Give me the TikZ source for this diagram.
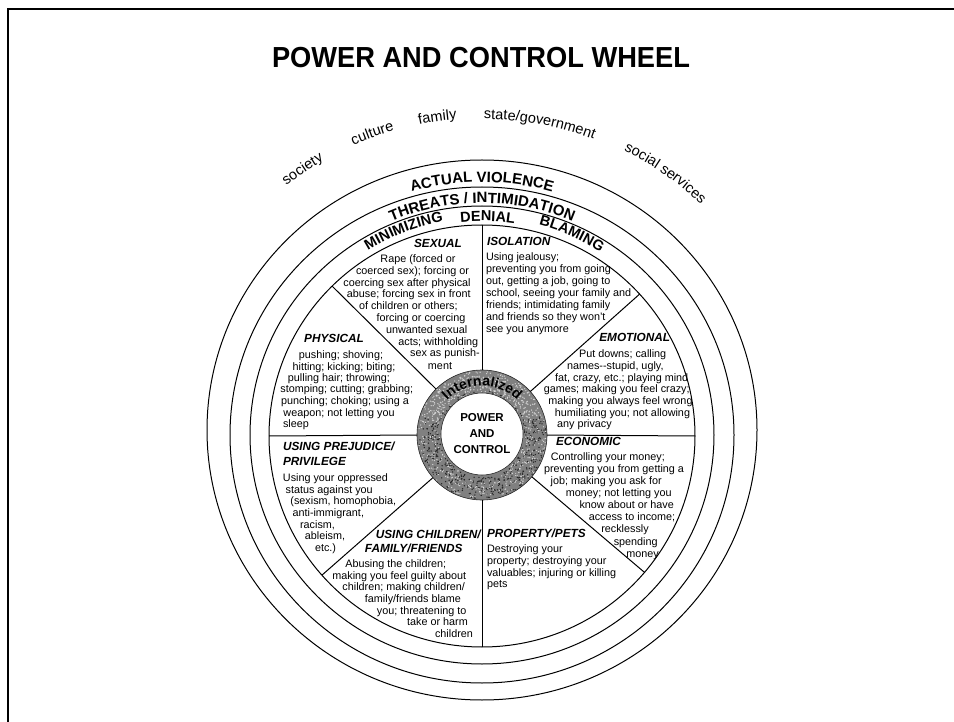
\documentclass[tikz,border=0pt]{standalone}
\usepackage{fontspec}
\setmainfont{Liberation Sans}
\newfontfamily\titlefont[FakeStretch=0.94]{Liberation Sans}
\usetikzlibrary{decorations.text,shapes.geometric}
\newcommand\rtBig{\fontsize{15}{15}\selectfont\bfseries}
\newcommand\rtMid{\fontsize{14.5}{15}\selectfont\bfseries}
\newcommand\rtOut{\fontsize{14.5}{15}\selectfont}
\newcommand\rtHub{\fontsize{14}{14}\selectfont\bfseries}
\begin{document}
\begin{tikzpicture}[x=1pt,y=-1pt,
  body/.style={font=\fontsize{10.8}{12}\selectfont, anchor=base, inner sep=0pt, outer sep=0pt, yshift=-3.6pt},
  bodyl/.style={body, anchor=base west},
  head/.style={font=\fontsize{11.8}{13}\selectfont\bfseries\itshape, anchor=base, inner sep=0pt, outer sep=0pt, yshift=-4.2pt},
  headl/.style={head, anchor=base west},
  ringline/.style={draw, line width=1pt, ellipse, inner sep=0pt, outer sep=0pt},
  spoke/.style={line width=1pt},
  curved/.style={decorate, decoration={text along path, text align=center, text={#1}}}
]
\useasboundingbox (0,0) rectangle (954,722);
\fill[white] (0,0) rectangle (954,722);
\draw[line width=2.5pt] (954,9) -- (8,9) -- (8,722);

\node[font=\titlefont\fontsize{29}{29}\selectfont\bfseries, inner sep=0pt] (title) at (481,58) {POWER AND CONTROL WHEEL};

% rings
\node[ringline, minimum width=550, minimum height=540] (r4) at (482,430) {};
\node[ringline, minimum width=504, minimum height=496] (r3) at (482,435) {};
\node[ringline, minimum width=464, minimum height=458] (r2) at (482,435) {};
\node[ringline, minimum width=426, minimum height=422] (rim) at (482,436) {};

% hub
\node[circle, draw=black!85, line width=0.6pt, fill=black!50, minimum size=130, inner sep=0pt, outer sep=0pt] (hub) at (482,435) {};

% spokes
\foreach \a in {90,42,0,320,270,221,180,135}
  \draw[spoke] (hub.\a) -- (rim.\a);

% curved texts and hub texture
\begin{scope}[y=1pt, shift={(482,-435)}]
  \pgfmathsetseed{11}
  \foreach \i in {1,...,700}{
    \pgfmathsetmacro\ang{360*rnd}
    \pgfmathsetmacro\rad{42.5+21.5*rnd}
    \pgfmathparse{and(and(\ang>18,\ang<162),\rad>45) ? 1 : 0}
    \ifdim\pgfmathresult pt>0.5pt
      \fill[white!80!black] (\ang:\rad) circle (0.75);
    \else
      \fill[black!85] (\ang:\rad) circle (0.75);
    \fi
  }
  \foreach \i in {1,...,500}{
    \pgfmathsetmacro\ang{360*rnd}
    \pgfmathsetmacro\rad{42.5+21.5*rnd}
    \fill[white!85!black] (\ang:\rad) circle (0.65);
  }
  \path[curved={|\rtHub|Internalized}] (165:49) arc[start angle=165, end angle=15, radius=49];

  \path[curved={|\rtBig|ACTUAL VIOLENCE}]
    (130:253) arc[start angle=130, end angle=50, radius=253];
  \path[curved={|\rtBig|THREATS / INTIMIDATION}]
    (135:232) arc[start angle=135, end angle=45, radius=232];
  \path[curved={|\rtMid|DENIAL}]
    (110:214) arc[start angle=110, end angle=67, radius=214];
  \path[curved={|\rtMid|MINIMIZING}]
    (136:217) arc[start angle=136, end angle=86, radius=217];
  \path[curved={|\rtMid|BLAMING}]
    (91:218) arc[start angle=91, end angle=41, radius=218];
  \path[curved={|\rtOut|society}]
    (149:317) arc[start angle=149, end angle=99, radius=317];
  \path[curved={|\rtOut|culture}]
    (135:317) arc[start angle=135, end angle=85, radius=317];
  \path[curved={|\rtOut|family}]
    (123:317) arc[start angle=123, end angle=73, radius=317];
  \path[curved={|\rtOut|state/government}]
    (109.5:316) arc[start angle=109.5, end angle=49.5, radius=316];
  \path[curved={|\rtOut|social services}]
    (85:318) arc[start angle=85, end angle=25, radius=318];
\end{scope}

\node[circle, draw=black!85, line width=0.6pt, fill=white, minimum size=82, inner sep=0pt, align=center,
  font=\fontsize{11.5}{16}\selectfont\bfseries] (core) at (482,434) {POWER\\AND\\CONTROL};

% SEXUAL
\node[head] (sxh) at (438,243) {SEXUAL};
\node[body] (sx1) at (418,259) {Rape (forced or};
\node[body] (sx2) at (412.5,271.2) {coerced sex); forcing or};
\node[body] (sx3) at (407,282.7) {coercing sex after physical};
\node[body] (sx4) at (408.7,294.3) {abuse; forcing sex in front};
\node[body] (sx5) at (408.3,306) {of children or others;};
\node[body] (sx6) at (421,318) {forcing or coercing};
\node[body] (sx7) at (426.7,329.5) {unwanted sexual};
\node[body] (sx8) at (438.3,341.5) {acts; withholding};
\node[body] (sx9) at (445,353.3) {sex as punish-};
\node[body] (sx10) at (440,365.5) {ment};

% PHYSICAL
\node[head] (phh) at (334,338.3) {PHYSICAL};
\node[body] (ph1) at (341,355) {pushing; shoving;};
\node[body] (ph2) at (344,366.7) {hitting; kicking; biting;};
\node[body] (ph3) at (339,377.7) {pulling hair; throwing;};
\node[body] (ph4) at (346.7,389.3) {stomping; cutting; grabbing;};
\node[body] (ph5) at (345,400.7) {punching; choking; using a};
\node[body] (ph6) at (339,412.5) {weapon; not letting you};
\node[bodyl] (ph7) at (283,424) {sleep};

% PREJUDICE
\node[headl] (prh1) at (283,446.7) {USING PREJUDICE/};
\node[headl] (prh2) at (283,461.7) {PRIVILEGE};
\node[body] (pr1) at (335.5,478.3) {Using your oppressed};
\node[body] (pr2) at (329.2,489.5) {status against you};
\node[body] (pr3) at (343.3,501) {(sexism, homophobia,};
\node[body] (pr4) at (328.3,512.7) {anti-immigrant,};
\node[body] (pr5) at (317.5,524.5) {racism,};
\node[body] (pr6) at (325,536.3) {ableism,};
\node[body] (pr7) at (325.5,548) {etc.)};

% CHILDREN
\node[head] (chh1) at (428.3,534.3) {USING CHILDREN/};
\node[head] (chh2) at (413.7,548.3) {FAMILY/FRIENDS};
\node[body] (ch1) at (395.8,564) {Abusing the children;};
\node[body] (ch2) at (399.3,575.5) {making you feel guilty about};
\node[body] (ch3) at (403.7,587) {children; making children/};
\node[body] (ch4) at (413,598.8) {family/friends blame};
\node[body] (ch5) at (421.7,610.5) {you; threatening to};
\node[body] (ch6) at (437.5,622.3) {take or harm};
\node[body] (ch7) at (454,634) {children};

% PROPERTY
\node[headl] (pph) at (487,533.3) {PROPERTY/PETS};
\node[bodyl] (pp1) at (487,549.3) {Destroying your};
\node[bodyl] (pp2) at (487,561) {property; destroying your};
\node[bodyl] (pp3) at (487,572.7) {valuables; injuring or killing};
\node[bodyl] (pp4) at (487,584.3) {pets};

% ISOLATION
\node[headl] (ish) at (487,241.7) {ISOLATION};
\node[bodyl] (is1) at (486,256.7) {Using jealousy;};
\node[bodyl] (is2) at (486,269) {preventing you from going};
\node[bodyl] (is3) at (486,281.3) {out, getting a job, going to};
\node[bodyl] (is4) at (486,293.3) {school, seeing your family and};
\node[bodyl] (is5) at (486,305.3) {friends; intimidating family};
\node[bodyl] (is6) at (486,317.3) {and friends so they won't};
\node[bodyl] (is7) at (486,329) {see you anymore};

% EMOTIONAL
\node[head] (emh) at (634.7,337.7) {EMOTIONAL};
\node[body] (em1) at (622.7,354) {Put downs; calling};
\node[body] (em2) at (615.3,366) {names-{}-stupid, ugly,};
\node[body] (em3) at (621.7,377.7) {fat, crazy, etc.; playing mind};
\node[body] (em4) at (616.7,389.3) {games; making you feel crazy;};
\node[body] (em5) at (620.5,401) {making you always feel wrong};
\node[body] (em6) at (622.5,412.8) {humiliating you; not allowing};
\node[body] (em7) at (584.5,424.3) {any privacy};

% ECONOMIC
\node[headl] (ech) at (556,441.7) {ECONOMIC};
\node[body] (ec1) at (607.8,457.3) {Controlling your money;};
\node[body] (ec2) at (614,469.3) {preventing you from getting a};
\node[body] (ec3) at (606.2,481) {job; making you ask for};
\node[body] (ec4) at (618.8,492.7) {money; not letting you};
\node[body] (ec5) at (626.7,505) {know about or have};
\node[body] (ec6) at (632,517.3) {access to income;};
\node[body] (ec7) at (625,529.3) {recklessly};
\node[body] (ec8) at (635.7,541.7) {spending};
\node[body] (ec9) at (642.5,554) {money};
\end{tikzpicture}
\end{document}
